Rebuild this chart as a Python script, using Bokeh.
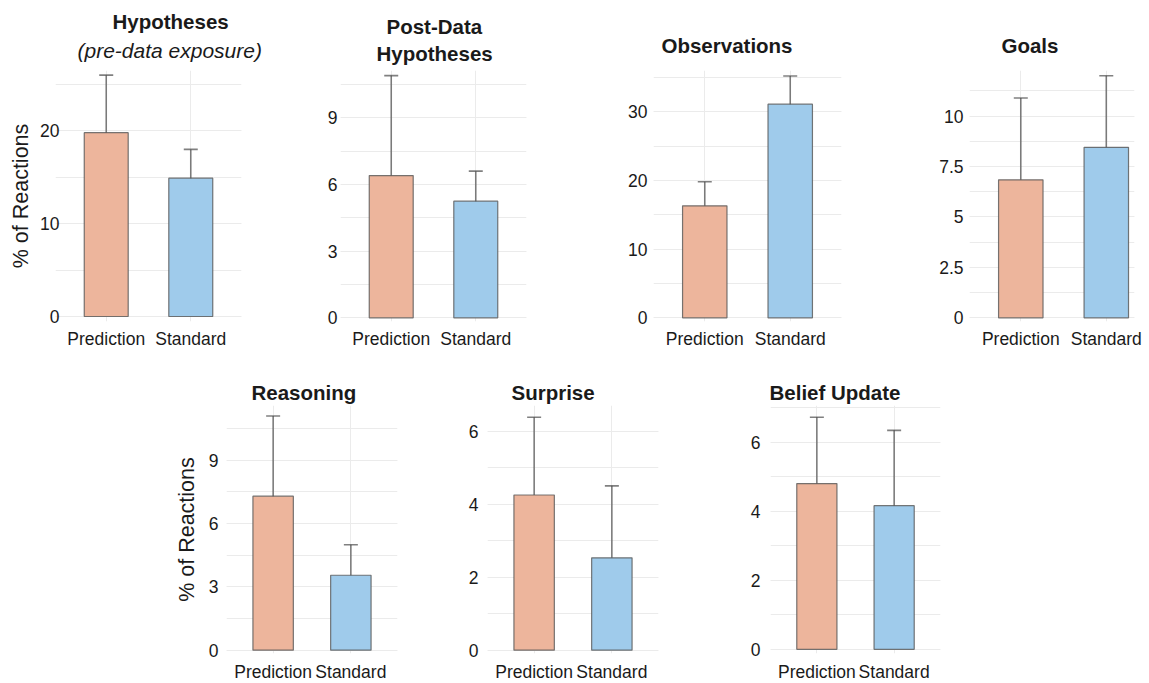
from bokeh.plotting import figure
from bokeh.models import (ColumnDataSource, Range1d, FixedTicker, SingleIntervalTicker,
                          Whisker, TeeHead, Title, CustomJSTickFormatter)
from bokeh.layouts import row, column
from bokeh.embed import file_html
from bokeh.resources import INLINE

# ---------------- data ----------------
conditions = ["Prediction", "Standard"]

hyp_mean = [19.8, 14.9]
hyp_lo = [13.5, 11.7]
hyp_hi = [26.0, 18.0]

post_mean = [6.4, 5.25]
post_lo = [1.93, 3.93]
post_hi = [10.9, 6.6]

obs_mean = [16.3, 31.1]
obs_lo = [12.9, 27.0]
obs_hi = [19.8, 35.2]

goal_mean = [6.84, 8.45]
goal_lo = [2.8, 4.88]
goal_hi = [10.9, 12.0]

reas_mean = [7.3, 3.55]
reas_lo = [3.5, 2.05]
reas_hi = [11.1, 5.0]

surp_mean = [4.25, 2.53]
surp_lo = [2.1, 0.57]
surp_hi = [6.38, 4.5]

bel_mean = [4.8, 4.16]
bel_lo = [2.87, 1.98]
bel_hi = [6.72, 6.34]

y_label = "% of Reactions"

# ---------------- style ----------------
FONT = "Liberation Sans"
COLORS = ["#EDB59C", "#9FCBEB"]
GRID = "#ebebeb"
TXT = "#1a1a1a"
ERR = "#4a4a4a"

ROWS = {
    1: dict(top=70, fh=251, bottom=34, xstand=7),
    2: dict(top=50, fh=248, bottom=30, xstand=8),
}

# titles: list of (text, left edge px relative to frame left, standoff, style), nearest frame first
panels = [
    dict(mean=hyp_mean, lo=hyp_lo, hi=hyp_hi, left=55, frw=186, right=59, xe=2.6,
         yr=(-0.54, 26.5), iv=10, row=1, ystand=-4,
         titles=[("(pre-data exposure)", 22, 18, "italic"), ("Hypotheses", 57, -10, "bold")],
         ylab=4),
    dict(mean=post_mean, lo=post_lo, hi=post_hi, left=40, frw=186, right=74, xe=2.6,
         yr=(-0.165, 11.13), iv=3, row=1, ystand=3,
         titles=[("Hypotheses", 36, 12, "bold"), ("Post-Data", 46, -8, "bold")], ylab=None),
    dict(mean=obs_mean, lo=obs_lo, hi=obs_hi, left=53, frw=188, right=94, xe=2.6,
         yr=(-0.53, 36.0), iv=10, row=1, ystand=6,
         titles=[("Observations", 8, 27, "bold")], ylab=None),
    dict(mean=goal_mean, lo=goal_lo, hi=goal_hi, left=34, frw=165, right=15, xe=2.33,
         yr=(-0.18, 12.26), iv=2.5, row=1, ystand=6,
         titles=[("Goals", 32, 27, "bold")], ylab=None),
    dict(mean=reas_mean, lo=reas_lo, hi=reas_hi, left=226, frw=171, right=53, xe=2.6,
         yr=(-0.16, 11.6), iv=3, row=2, ystand=8,
         titles=[("Reasoning", 25, 3, "bold")], ylab=7),
    dict(mean=surp_mean, lo=surp_lo, hi=surp_hi, left=37, frw=171, right=62, xe=2.6,
         yr=(-0.09, 6.7), iv=2, row=2, ystand=9,
         titles=[("Surprise", 24, 3, "bold")], ylab=None),
    dict(mean=bel_mean, lo=bel_lo, hi=bel_hi, left=50, frw=170, right=40, xe=2.6,
         yr=(-0.12, 7.06), iv=2, row=2, ystand=10,
         titles=[("Belief Update", -1, 3, "bold")], ylab=None),
]


def make_title(text, off, standoff, style):
    size = "21px" if style == "italic" else "20.5px"
    kw = dict(text=text, align="left", offset=off, text_font=FONT, text_font_style=style,
              text_font_size=size, text_color=TXT)
    try:
        return Title(standoff=standoff, **kw)
    except Exception:
        return Title(standoff=max(standoff, 0), **kw)


def make_panel(spec):
    r = ROWS[spec["row"]]
    xs, xe = 0.4, spec["xe"]
    ys, ye = spec["yr"]

    p = figure(frame_width=spec["frw"], frame_height=r["fh"], output_backend="svg",
               toolbar_location=None,
               x_range=Range1d(xs, xe), y_range=Range1d(ys, ye),
               min_border_left=spec["left"], min_border_right=spec["right"],
               min_border_top=r["top"], min_border_bottom=r["bottom"])
    p.outline_line_color = None
    p.background_fill_color = "white"
    p.border_fill_color = "white"

    xpos = [i + 1 for i in range(len(conditions))]
    src = ColumnDataSource(dict(x=xpos, cond=conditions, top=spec["mean"],
                                lo=spec["lo"], hi=spec["hi"], color=COLORS))
    p.vbar(x="x", top="top", bottom=0, width=0.52, source=src, fill_color="color",
           line_color="#555555", line_alpha=0.8, line_width=1.2)
    head = dict(size=14, line_color=ERR, line_width=1.6, line_alpha=0.7)
    p.add_layout(Whisker(source=src, base="x", upper="hi", lower="lo",
                         line_color=ERR, line_width=1.6, line_alpha=0.7,
                         upper_head=TeeHead(**head), lower_head=TeeHead(**head)))

    # axes
    p.xaxis.ticker = FixedTicker(ticks=xpos)
    p.xaxis.major_label_overrides = {x: c for x, c in zip(xpos, conditions)}
    p.yaxis.ticker = SingleIntervalTicker(interval=spec["iv"], num_minor_ticks=2)
    p.yaxis.formatter = CustomJSTickFormatter(code="return String(Math.round(tick*100)/100)")
    for ax in (p.xaxis, p.yaxis):
        ax.axis_line_color = None
        ax.major_tick_line_color = None
        ax.minor_tick_line_color = None
        ax.major_tick_out = 0
        ax.minor_tick_out = 0
        ax.major_label_text_font = FONT
        ax.major_label_text_font_size = "17.5px"
        ax.major_label_text_color = TXT
    p.xaxis.major_label_standoff = r["xstand"]
    p.yaxis.major_label_standoff = spec["ystand"]

    if spec["ylab"] is not None:
        p.yaxis.axis_label = y_label
        p.yaxis.axis_label_standoff = spec["ylab"]
        p.yaxis.axis_label_text_font = FONT
        p.yaxis.axis_label_text_font_style = "normal"
        p.yaxis.axis_label_text_font_size = "21.5px"
        p.yaxis.axis_label_text_color = TXT

    p.xgrid.grid_line_color = GRID
    p.ygrid.grid_line_color = GRID
    p.ygrid.minor_grid_line_color = GRID

    p.title = None
    for text, off, standoff, style in spec["titles"]:
        p.add_layout(make_title(text, off, standoff, style), "above")
    return p


figs = [make_panel(s) for s in panels]
layout = column(row(*figs[:4]), row(*figs[4:]))

open("out.html", "w").write(file_html(layout, INLINE))
